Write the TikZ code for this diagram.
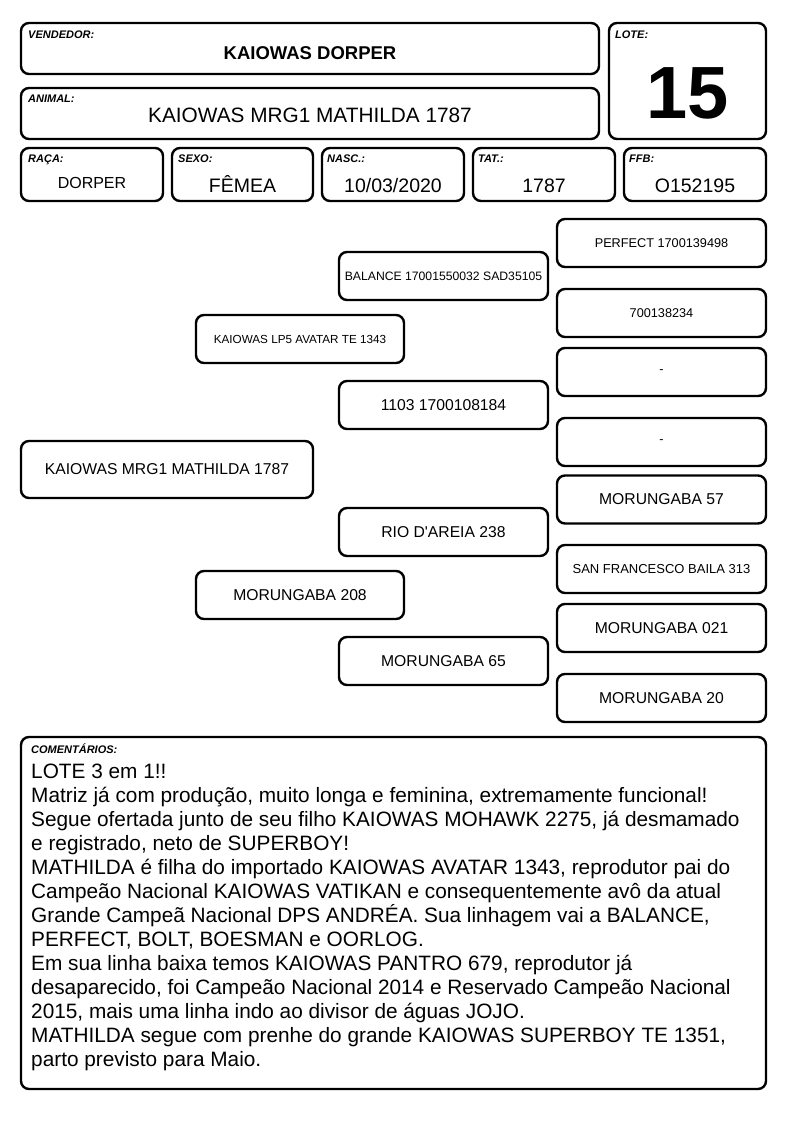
\documentclass[tikz,border=0pt]{standalone}
\usepackage{fontspec}
\setmainfont{Liberation Sans}

\begin{document}
\begin{tikzpicture}[x = 1pt, y = -1pt,
  box/.style = {draw, line width = 2.4pt, rounded corners = 8pt, inner sep = 0pt, outer sep = 0pt, align = center},
  tag/.style = {anchor = base west, inner sep = 0pt, font = \fontsize{11}{12}\selectfont\bfseries\itshape},
  val/.style = {anchor = base, inner sep = 0pt, font = \fontsize{19.5}{22}\selectfont},
  cell/.style = {box, minimum width = 142pt, minimum height = 53pt},
  ped/.style = {box, minimum width = 209pt, minimum height = 48pt, font = \fontsize{15.7}{18}\selectfont}]
\useasboundingbox (0,0) rectangle (794,1123);

\node[box, minimum width = 578pt, minimum height = 51pt] (vendedor) at (310,48.5) {};
\node[tag] (vendedortag) at ([shift={(7,16)}]vendedor.north west) {VENDEDOR:};
\node[anchor = base, inner sep = 0pt, font = \fontsize{18.5}{22}\selectfont\bfseries] (vendedorval) at (310,60) {KAIOWAS DORPER};

\node[box, minimum width = 578pt, minimum height = 51pt] (animal) at (310,113.5) {};
\node[tag] (animaltag) at ([shift={(7,15)}]animal.north west) {ANIMAL:};
\node[anchor = base, inner sep = 0pt, font = \fontsize{20.8}{24}\selectfont] (animalval) at (310,123) {KAIOWAS MRG1 MATHILDA 1787};

\node[box, minimum width = 157pt, minimum height = 116pt] (lote) at (687.5,81) {};
\node[tag] (lotetag) at ([shift={(6,16)}]lote.north west) {LOTE:};
\node[anchor = base, inner sep = 0pt, font = \fontsize{74}{80}\selectfont\bfseries] (loteval) at (688,119) {15};

\node[cell] (raca) at (92,174.5) {};
\node[tag] (racatag) at ([shift={(7,15)}]raca.north west) {RAÇA:};
\node[val, font = \fontsize{16}{19}\selectfont] (racaval) at (92,189) {DORPER};
\node[cell, minimum width = 141pt] (sexo) at (242.5,174.5) {};
\node[tag] (sexotag) at ([shift={(6,15)}]sexo.north west) {SEXO:};
\node[val] (sexoval) at (242.5,193) {FÊMEA};
\node[cell] (nasc) at (393,174.5) {};
\node[tag] (nasctag) at ([shift={(5,15)}]nasc.north west) {NASC.:};
\node[val] (nascval) at (393,193) {10/03/2020};
\node[cell] (tat) at (544,174.5) {};
\node[tag] (tattag) at ([shift={(5,15)}]tat.north west) {TAT.:};
\node[val] (tatval) at (544,193) {1787};
\node[cell] (ffb) at (695,174.5) {};
\node[tag] (ffbtag) at ([shift={(5,15)}]ffb.north west) {FFB:};
\node[val] (ffbval) at (695,193) {O152195};

\node[ped, minimum width = 292pt, minimum height = 57pt] (1) at (167,469.5) {KAIOWAS MRG1 MATHILDA 1787};
\node[ped, minimum width = 208pt, font = \fontsize{11.7}{14}\selectfont] (2) at (300,339) {KAIOWAS LP5 AVATAR TE 1343};
\node[ped, minimum width = 208pt] (3) at (300,595) {MORUNGABA 208};
\node[ped, font = \fontsize{12.2}{14}\selectfont] (4) at (443.5,276) {BALANCE 17001550032 SAD35105};
\node[ped] (5) at (443.5,405) {1103 1700108184};
\node[ped] (6) at (443.5,532) {RIO D\textquotesingle AREIA 238};
\node[ped] (7) at (443.5,661) {MORUNGABA 65};
\node[ped, font = \fontsize{12.7}{15}\selectfont] (8) at (661.5,243) {PERFECT 1700139498};
\node[ped, font = \fontsize{12.7}{15}\selectfont] (9) at (661.5,313) {700138234};
\node[ped, font = \fontsize{12.7}{15}\selectfont] (10) at (661.5,372) {-};
\node[ped, font = \fontsize{12.7}{15}\selectfont] (11) at (661.5,442) {-};
\node[ped] (12) at (661.5,499.5) {MORUNGABA 57};
\node[ped, font = \fontsize{13}{15}\selectfont] (13) at (661.5,569) {SAN FRANCESCO BAILA 313};
\node[ped] (14) at (661.5,628) {MORUNGABA 021};
\node[ped] (15) at (661.5,698) {MORUNGABA 20};

\node[box, minimum width = 745pt, minimum height = 352pt] (comentarios) at (393.5,913) {};
\node[tag] (comentariostag) at ([shift={(10,16)}]comentarios.north west) {COMENTÁRIOS:};
\node[anchor = base west, inner sep = 0pt] (comentariostext) at ([shift={(10,41)}]comentarios.north west)
  {\parbox[t]{740pt}{\fontsize{20.8}{24}\selectfont\raggedright
  LOTE 3 em 1!!\\
  Matriz já com produção, muito longa e feminina, extremamente funcional!\\
  Segue ofertada junto de seu filho KAIOWAS MOHAWK 2275, já desmamado\\
  e registrado, neto de SUPERBOY!\\
  MATHILDA é filha do importado KAIOWAS AVATAR 1343, reprodutor pai do\\
  Campeão Nacional KAIOWAS VATIKAN e consequentemente avô da atual\\
  Grande Campeã Nacional DPS ANDRÉA. Sua linhagem vai a BALANCE,\\
  PERFECT, BOLT, BOESMAN e OORLOG.\\
  Em sua linha baixa temos KAIOWAS PANTRO 679, reprodutor já\\
  desaparecido, foi Campeão Nacional 2014 e Reservado Campeão Nacional\\
  2015, mais uma linha indo ao divisor de águas JOJO.\\
  MATHILDA segue com prenhe do grande KAIOWAS SUPERBOY TE 1351,\\
  parto previsto para Maio.}};
\end{tikzpicture}
\end{document}
